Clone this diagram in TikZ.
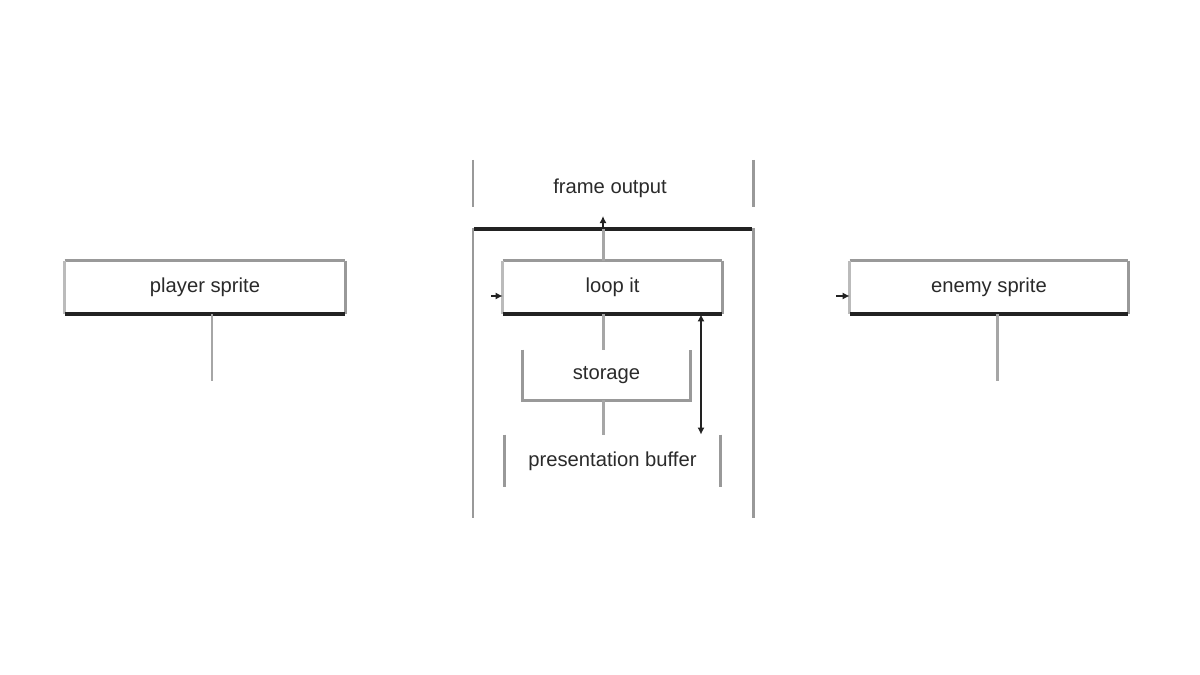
\documentclass[tikz,border=0pt]{standalone}
\usepackage{fontspec}
\setmainfont{Liberation Sans}
\usetikzlibrary{arrows.meta}
\definecolor{edgegray}{HTML}{999999}
\definecolor{lightedge}{HTML}{BBBBBB}
\definecolor{stemgray}{HTML}{A6A6A6}
\definecolor{inkdark}{HTML}{222222}
\definecolor{textdark}{HTML}{2A2A2A}
\begin{document}
\begin{tikzpicture}[x=0.02cm,y=-0.02cm,
  lbl/.style={inner sep=0pt, text=textdark, font=\fontsize{11.5}{13}\selectfont},
  box/.style={lbl, minimum height=1.06cm},
  topedge/.style={edgegray, line width=1.7pt},
  leftedge/.style={lightedge, line width=1.7pt},
  rightedge/.style={edgegray, line width=1.7pt},
  bottomedge/.style={inkdark, line width=2.2pt},
  stem/.style={stemgray, line width=1.7pt},
  wall/.style={edgegray, line width=1.7pt},
  tipmark/.style={-{Latex[length=4pt,width=4pt]}, inkdark, line width=1.2pt},
  dbl/.style={{Latex[length=4pt,width=4pt]}-{Latex[length=4pt,width=4pt]}, inkdark, line width=1.3pt}
]
\useasboundingbox (0,0) rectangle (1200,675);
\fill[white] (0,0) rectangle (1200,675);

% side boxes
\node[box, minimum width=5.6cm] (player) at (205,287.5) {player sprite};
\node[box, minimum width=5.56cm] (enemy) at (989,287.5) {enemy sprite};

% centre container
\coordinate (wl1) at (473,160); \coordinate (wl2) at (473,207);
\coordinate (wl3) at (473,228); \coordinate (wl4) at (473,518);
\coordinate (wr1) at (753,160); \coordinate (wr2) at (753,207);
\coordinate (wr3) at (753,228); \coordinate (wr4) at (753,518);
\draw[wall] (wl1) -- (wl2); \draw[wall] (wl3) -- (wl4);
\draw[wall] (wr1) -- (wr2); \draw[wall] (wr3) -- (wr4);
\node[lbl] (title) at (610,188) {frame output};
\coordinate (barl) at (474,229); \coordinate (barr) at (752,229);
\draw[inkdark, line width=2.2pt] (barl) -- (barr);

\node[box, minimum width=4.38cm] (loop) at (612.5,287.5) {loop it};
\node[box, minimum width=3.34cm, minimum height=1cm] (store) at (606.5,375) {storage};
\node[box, minimum width=4.3cm, minimum height=1.04cm] (pres) at (612.5,461) {presentation buffer};

% bevelled borders
\foreach \n in {player,enemy,loop} {
  \draw[topedge] (\n.north west) -- (\n.north east);
  \draw[leftedge] (\n.north west) -- (\n.south west);
  \draw[rightedge] (\n.north east) -- (\n.south east);
  \draw[bottomedge] (\n.south west) -- (\n.south east);
}
\draw[wall] (store.north west) -- (store.south west) -- (store.south east) -- (store.north east);
\draw[wall] (pres.north west) -- (pres.south west);
\draw[wall] (pres.north east) -- (pres.south east);

% stems of side boxes
\coordinate (pstem) at (212,381);
\coordinate (estem) at (997,381);
\draw[stem] (pstem |- player.south) -- (pstem);
\draw[stem] (estem |- enemy.south) -- (estem);

% centre connectors
\coordinate (cx) at (603,0);
\coordinate (uptip) at (603,216);
\draw[stem] (cx |- loop.north) -- (cx |- barl);
\draw[tipmark] (cx |- barl) -- (uptip);
\draw[stem] (cx |- loop.south) -- (cx |- store.north);
\draw[stem] (cx |- store.south) -- (cx |- pres.north);

\coordinate (rx) at (701,0);
\draw[dbl] (rx |- loop.south) -- (rx |- pres.north);

% small entry marks
\coordinate (lin) at (491,296);
\coordinate (ein) at (836,296);
\draw[tipmark] (lin) -- (lin -| loop.west);
\draw[tipmark] (ein) -- (ein -| enemy.west);
\end{tikzpicture}
\end{document}
